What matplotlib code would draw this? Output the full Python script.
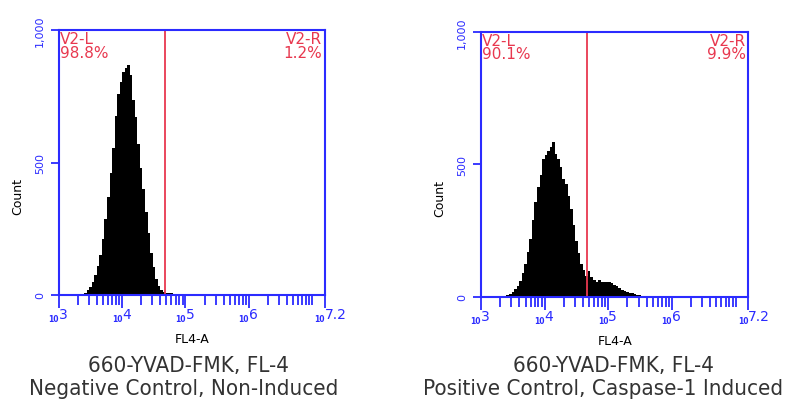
import matplotlib
matplotlib.use('Agg')
import matplotlib.pyplot as plt
import matplotlib.transforms as mtransforms
import numpy as np

# histogram bin centres (log10 of FL4-A) and counts
bin_w = 0.04
neg_centres = [3.42, 3.46, 3.50, 3.54, 3.58, 3.62, 3.66, 3.70, 3.74, 3.78,
               3.82, 3.86, 3.90, 3.94, 3.98, 4.02, 4.06, 4.10, 4.14, 4.18,
               4.22, 4.26, 4.30, 4.34, 4.38, 4.42, 4.46, 4.50, 4.54, 4.58,
               4.62, 4.66, 4.70, 4.74, 4.78, 4.82, 4.86, 4.90, 4.94, 4.98,
               5.02, 5.06, 5.10, 5.14]
neg_counts = [8, 18, 30, 48, 75, 110, 150, 210, 285, 370,
              460, 555, 675, 760, 805, 840, 858, 870, 830, 735,
              670, 570, 480, 400, 315, 235, 160, 105, 62, 35,
              20, 12, 8, 7, 6, 5, 4, 3, 3, 2,
              2, 2, 1, 1]

pos_centres = [3.38, 3.42, 3.46, 3.50, 3.54, 3.58, 3.62, 3.66, 3.70, 3.74,
               3.78, 3.82, 3.86, 3.90, 3.94, 3.98, 4.02, 4.06, 4.10, 4.14,
               4.18, 4.22, 4.26, 4.30, 4.34, 4.38, 4.42, 4.46, 4.50, 4.54,
               4.58, 4.62, 4.66, 4.70, 4.74, 4.78, 4.82, 4.86, 4.90, 4.94,
               4.98, 5.02, 5.06, 5.10, 5.14, 5.18, 5.22, 5.26, 5.30, 5.34,
               5.38, 5.42, 5.46, 5.50, 5.54, 5.58, 5.62, 5.66, 5.70, 5.74,
               5.78, 5.82]
pos_counts = [3, 8, 12, 18, 28, 42, 60, 90, 125, 170,
              220, 290, 360, 415, 460, 520, 535, 550, 565, 585,
              540, 520, 490, 445, 425, 380, 330, 270, 210, 165,
              125, 100, 80, 98, 75, 62, 58, 62, 58, 56,
              55, 56, 52, 45, 40, 32, 27, 22, 18, 15,
              13, 10, 8, 6, 5, 4, 3, 3, 2, 2,
              2, 1]

gate_log = [4.674, 4.667]
left_pct = ['98.8%', '90.1%']
right_pct = ['1.2%', '9.9%']
decades = [3, 4, 5, 6, 7.2]
exp_labels = ['3', '4', '5', '6', '7.2']
captions = [('660-YVAD-FMK, FL-4', 'Negative Control, Non-Induced'),
            ('660-YVAD-FMK, FL-4', 'Positive Control, Caspase-1 Induced')]

blue = '#2b2bff'
red = '#e8384f'

fig = plt.figure(figsize=(7.86, 4.02), dpi=100)
ax1 = fig.add_axes([0.075, 0.2637, 0.338, 0.659])
ax2 = fig.add_axes([0.612, 0.259, 0.340, 0.659])

datasets = [(neg_centres, neg_counts), (pos_centres, pos_counts)]
cap_x = [(0.240, 0.234), (0.781, 0.767)]

for i, ax in enumerate([ax1, ax2]):
    centres, counts = datasets[i]
    c = np.array(centres)
    edges = np.append(c - bin_w / 2, c[-1] + bin_w / 2)
    ax.stairs(counts, 10 ** edges, fill=True, color='black', baseline=0)

    ax.set_xscale('log')
    ax.set_xlim(1e3, 10 ** 7.2)
    ax.set_ylim(0, 1000)

    # gate line and labels
    ax.axvline(10 ** gate_log[i], color=red, lw=1.3)
    ax.text(0.005, 0.995, 'V2-L\n' + left_pct[i], transform=ax.transAxes,
            color=red, fontsize=11, va='top', ha='left', linespacing=0.85)
    ax.text(0.99, 0.995, 'V2-R\n' + right_pct[i], transform=ax.transAxes,
            color=red, fontsize=11, va='top', ha='right', linespacing=0.85,
            multialignment='right')

    for s in ax.spines.values():
        s.set_color(blue)
        s.set_linewidth(1.5)

    # x ticks, labels drawn as small "10" plus exponent
    ax.set_xticks([10 ** d for d in decades])
    ax.set_xticklabels([])
    minors = [m * 10 ** d for d in range(3, 7) for m in range(2, 10)] + [1e7]
    ax.set_xticks(minors, minor=True)
    ax.set_xticklabels([], minor=True)
    ax.tick_params(axis='x', which='major', direction='out', length=9,
                   width=1.3, color=blue)
    ax.tick_params(axis='x', which='minor', direction='out', length=7,
                   width=1.3, color=blue)
    trans = mtransforms.blended_transform_factory(ax.transData, ax.transAxes)
    for d, e in zip(decades, exp_labels):
        ax.text(10 ** d, -0.098, '10', transform=trans, ha='right',
                va='baseline', fontsize=5.5, color=blue, fontweight='bold')
        ax.text(10 ** d, -0.087, e, transform=trans, ha='left',
                va='baseline', fontsize=10, color=blue)

    # y ticks
    ax.set_yticks([0, 500, 1000])
    ax.set_yticklabels(['0', '500', '1,000'], rotation=90, va='center')
    ax.yaxis.set_minor_locator(plt.NullLocator())
    ax.tick_params(axis='y', direction='out', length=6, width=1.3,
                   color=blue, labelcolor=blue, labelsize=8, pad=4)

    ax.set_xlabel('FL4-A', fontsize=9, color='black', labelpad=14)
    ax.set_ylabel('Count', fontsize=9, color='black')
    ax.yaxis.set_label_coords(-0.132, 0.377)

    top, bottom = captions[i]
    fig.text(cap_x[i][0], 0.090, top, ha='center', va='center', fontsize=16,
             color='#333333', family='DejaVu Sans', fontstretch='condensed')
    fig.text(cap_x[i][1], 0.032, bottom, ha='center', va='center', fontsize=16,
             color='#333333', family='DejaVu Sans', fontstretch='condensed')

fig.savefig('out.png', dpi=100)
